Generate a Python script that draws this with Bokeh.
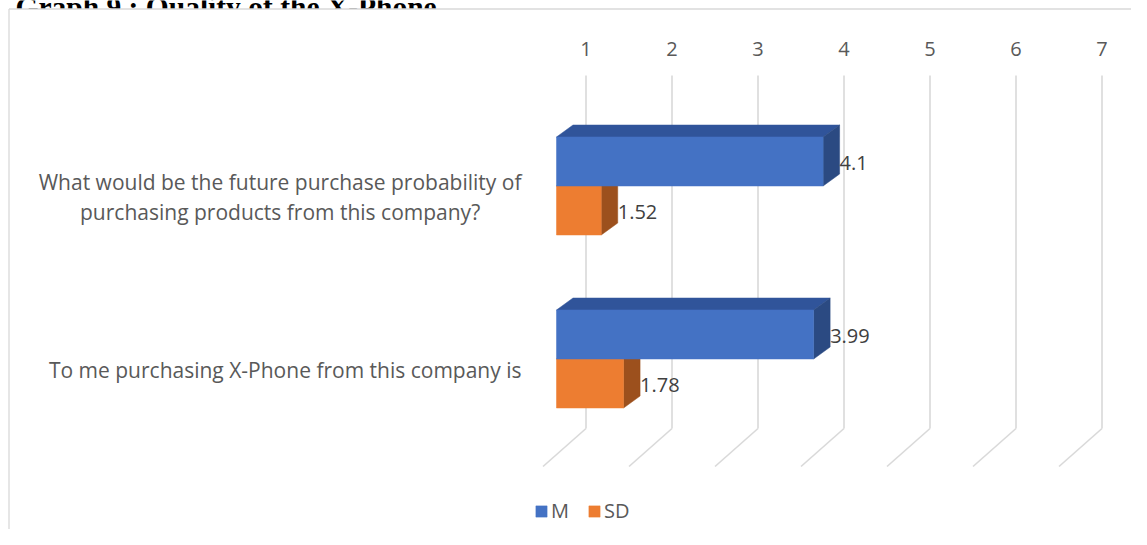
import textwrap
from bokeh.plotting import figure
from bokeh.models import Range1d, Legend, LegendItem
from bokeh.core.properties import value
from bokeh.embed import file_html
from bokeh.resources import INLINE

# ---------------- data ----------------
title_text = "Graph 9 : Quality of the X-Phone"
categories = [
    "What would be the future purchase probability of purchasing products from this company?",
    "To me purchasing X-Phone from this company is",
]
series_names = ["M", "SD"]
m_values = [4.1, 3.99]
sd_values = [1.52, 1.78]
ticks = [1, 2, 3, 4, 5, 6, 7]
axis_min = 1

# ---------------- layout constants ----------------
W, H = 1131, 529
PX_X = 86.0      # pixels per value unit
PX_Y = 173.0     # pixels per category step
X0 = 556.0       # canvas x of value 1 (front plane)
C0 = 185.5       # canvas y of first category centre

def ux(px):
    return px / PX_X

def uy(py):
    return py / PX_Y

def cy(canvas_y):
    return (canvas_y - C0) / PX_Y

def cx(canvas_x):
    return axis_min + (canvas_x - X0) / PX_X

x_start = cx(0)
x_end = cx(W)
y_top = cy(0)
y_bot = cy(H)

FONT = "Open Sans"
GRID = "#D9D9D9"
TXT = "#595959"

p = figure(width=W, height=H,
           x_range=Range1d(x_start, x_end), y_range=Range1d(y_bot, y_top),
           x_axis_location=None, y_axis_location=None,
           output_backend="svg", toolbar_location=None, min_border=0,
           outline_line_color=None, background_fill_color="white",
           border_fill_color="white")
p.grid.visible = False

# title (mostly cut off at the top like the reference)
p.text(x=[cx(15)], y=[cy(6)], text=[title_text], text_font=value("Liberation Serif"),
       text_font_style="bold", text_font_size="29.5px", text_color="black",
       text_baseline="alphabetic", text_align="left")

# chart area covering the title's lower part
p.quad(left=[cx(8)], right=[x_end], top=[cy(8.5)], bottom=[y_bot],
       fill_color="white", line_color=None)
p.segment(x0=[cx(8.5)], y0=[cy(8.5)], x1=[cx(8.5)], y1=[y_bot], line_color=GRID, line_width=1.3)
p.segment(x0=[cx(8.5)], y0=[cy(8.5)], x1=[x_end], y1=[cy(8.5)], line_color=GRID, line_width=1.3)

# gridlines on back wall + floor diagonals
back = ux(29.5)
gx = [t + back for t in ticks]
g_top, g_bot, g_diag = cy(75), cy(428), cy(466)
p.segment(x0=gx, y0=[g_top] * len(gx), x1=gx, y1=[g_bot] * len(gx), line_color=GRID, line_width=1.6)
p.segment(x0=gx, y0=[g_bot] * len(gx), x1=[g - ux(43) for g in gx], y1=[g_diag] * len(gx),
          line_color=GRID, line_width=1.6)

# tick labels along the top
p.text(x=gx, y=[cy(48.5)] * len(gx), text=[str(t) for t in ticks], text_font=value(FONT),
       text_font_size="20px", text_color=TXT, text_align="center", text_baseline="middle")

# category labels: block right-aligned to the axis, lines centred inside
wrapped = ["\n".join(textwrap.wrap(c, 50)) for c in categories]
cat_y = [i + uy(11) for i in range(len(categories))]
p.text(x=[cx(521)] * len(categories), y=cat_y, text=wrapped, text_font=value(FONT),
       text_font_size="21px", text_color=TXT, text_align="center", text_baseline="middle",
       anchor="center_right", text_line_height=1.05)

# ---------------- 3D bars ----------------
BH = uy(49)
DDX, DDY = ux(16.5), uy(-12)

def bar3d(vals, offset, front, top_c, side_c):
    tops = [i + offset for i in range(len(vals))]
    bots = [t + BH for t in tops]
    top_xs = [[axis_min, v, v + DDX, axis_min + DDX] for v in vals]
    top_ys = [[t, t, t + DDY, t + DDY] for t in tops]
    p.patches(top_xs, top_ys, fill_color=top_c, line_color=top_c, line_width=0.5)
    side_xs = [[v, v + DDX, v + DDX, v] for v in vals]
    side_ys = [[t, t + DDY, b + DDY, b] for t, b in zip(tops, bots)]
    p.patches(side_xs, side_ys, fill_color=side_c, line_color=side_c, line_width=0.5)
    r = p.quad(left=[axis_min] * len(vals), right=vals, top=tops, bottom=bots,
               fill_color=front, line_color=front, line_width=0.5)
    return r, tops, bots

r_sd, sd_t, sd_b = bar3d(sd_values, 0.0, "#ED7D31", "#C96A28", "#9C501D")
r_m, m_t, m_b = bar3d(m_values, -BH, "#4472C4", "#30549A", "#2B4A82")

# data labels
for vals, t, b in ((m_values, m_t, m_b), (sd_values, sd_t, sd_b)):
    p.text(x=[v + DDX for v in vals], y=[(a + c) / 2 + uy(1.5) for a, c in zip(t, b)],
           text=[f"{v:g}" for v in vals], text_font=value(FONT), text_font_size="20px",
           text_color="#404040", text_align="left", text_baseline="middle")

# legend
legend = Legend(items=[LegendItem(label=series_names[0], renderers=[r_m]),
                       LegendItem(label=series_names[1], renderers=[r_sd])],
                orientation="horizontal", location=(534, 5), padding=0, margin=0,
                spacing=16, glyph_width=14, glyph_height=14, label_standoff=3,
                border_line_color=None, background_fill_alpha=0,
                label_text_font=FONT, label_text_font_size="20px", label_text_color=TXT)
p.add_layout(legend, "center")

open("out.html", "w").write(file_html(p, INLINE))
